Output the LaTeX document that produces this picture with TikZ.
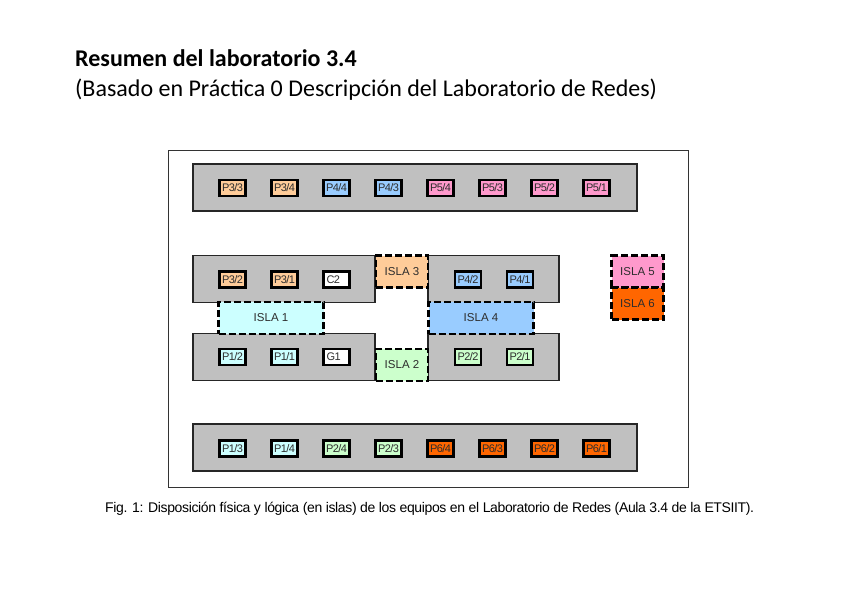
\documentclass[tikz,border=0pt]{standalone}
\usepackage{xcolor}
\usepackage{fontspec}
\setmainfont{Liberation Sans}
\newfontfamily\titlefont{Carlito}
\usetikzlibrary{positioning}
\definecolor{benchgray}{RGB}{192,192,192}
\definecolor{islaa}{RGB}{204,255,255}
\definecolor{islab}{RGB}{204,255,204}
\definecolor{islac}{RGB}{255,204,153}
\definecolor{islad}{RGB}{153,204,255}
\definecolor{islae}{RGB}{255,153,204}
\definecolor{islaf}{RGB}{255,102,0}
\definecolor{labelgray}{RGB}{45,45,45}
\tikzset{
  room/.style ={rectangle, draw=black!80, line width=0.9pt, outer sep=0pt, inner sep=0pt},
  bench/.style={rectangle, draw=black!85, fill=benchgray, line width=1.1pt, outer sep=0pt, inner sep=0pt,
                minimum height=47pt},
  pc/.style   ={rectangle, draw=black, line width=2.8pt, outer sep=0pt, inner sep=0pt,
                minimum width=26pt, minimum height=16pt,
                font=\fontsize{11}{11}\selectfont\addfontfeatures{LetterSpace=-5}, text=labelgray},
  guest/.style={pc, fill=white, text width=20pt, align=left},
  isla/.style ={rectangle, draw=black, line width=2.4pt, dash pattern=on 7pt off 3pt, outer sep=0pt, inner sep=0pt,
                font=\fontsize{11.5}{12}\selectfont, text=labelgray},
  heading/.style={anchor=base west, inner sep=0pt, font=\titlefont\fontsize{24}{26}\selectfont},
}
\begin{document}
\begin{tikzpicture}[x=1pt,y=-1pt]
\useasboundingbox (0,0) rectangle (848,599);
\fill[white] (0,0) rectangle (848,599);
\node[heading] (title) at (75,67) {\textbf{Resumen del laboratorio 3.4}};
\node[heading] (subtitle) at (75,97) {(Basado en Práctica 0 Descripción del Laboratorio de Redes)};
\node[room, minimum width=519.5pt, minimum height=337pt] (aula) at (428.25,318.5) {};
\node[anchor=base west, inner sep=0pt, font=\fontsize{14}{16}\selectfont] (caption) at (105,512)
   {\addfontfeatures{LetterSpace=-2.6}Fig. 1: Disposición física y lógica (en islas) de los equipos en el Laboratorio de Redes (Aula 3.4 de la ETSIIT).};
% benches
\node[bench, minimum width=444pt] (top) at (415,187.5) {};
\node[bench, minimum width=182pt] (upleft) at (284,279) {};
\node[bench, minimum width=131pt] (upright) at (493.5,279) {};
\node[bench, minimum width=182pt] (lowleft) at (284,357) {};
\node[bench, minimum width=131pt] (lowright) at (493.5,357) {};
\node[bench, minimum width=444pt] (bottom) at (415,447.5) {};
% top row
\node[pc, fill=islac] (p33) at (232.5,188) {P3/3};
\node[pc, fill=islac, right=26pt of p33] (p34) {P3/4};
\node[pc, fill=islad, right=26pt of p34] (p44) {P4/4};
\node[pc, fill=islad, right=26pt of p44] (p43) {P4/3};
\node[pc, fill=islae, right=26pt of p43] (p54) {P5/4};
\node[pc, fill=islae, right=26pt of p54] (p53) {P5/3};
\node[pc, fill=islae, right=26pt of p53] (p52) {P5/2};
\node[pc, fill=islae, right=26pt of p52] (p51) {P5/1};
% upper benches
\node[pc, fill=islac] (p32) at (232.5,279.5) {P3/2};
\node[pc, fill=islac, right=26pt of p32] (p31) {P3/1};
\node[guest, right=26pt of p31] (c2) {C2};
\node[pc, fill=islad] (p42) at (468,279.5) {P4/2};
\node[pc, fill=islad, right=26pt of p42] (p41) {P4/1};
% lower benches
\node[pc, fill=islaa] (p12) at (232.5,357) {P1/2};
\node[pc, fill=islaa, right=26pt of p12] (p11) {P1/1};
\node[guest, right=26pt of p11] (g1) {G1};
\node[pc, fill=islab] (p22) at (468,357) {P2/2};
\node[pc, fill=islab, right=26pt of p22] (p21) {P2/1};
% bottom row
\node[pc, fill=islaa] (p13) at (232.5,448.5) {P1/3};
\node[pc, fill=islaa, right=26pt of p13] (p14) {P1/4};
\node[pc, fill=islab, right=26pt of p14] (p24) {P2/4};
\node[pc, fill=islab, right=26pt of p24] (p23) {P2/3};
\node[pc, fill=islaf, right=26pt of p23] (p64) {P6/4};
\node[pc, fill=islaf, right=26pt of p64] (p63) {P6/3};
\node[pc, fill=islaf, right=26pt of p63] (p62) {P6/2};
\node[pc, fill=islaf, right=26pt of p62] (p61) {P6/1};
% islands
\node[isla, fill=islaa, minimum width=105pt, minimum height=32pt] (isla1) at (271,318) {ISLA 1};
\node[isla, fill=islab, minimum width=52pt, minimum height=32pt] (isla2) at (402,365) {ISLA 2};
\node[isla, fill=islac, minimum width=52pt, minimum height=32pt] (isla3) at (402,271.5) {ISLA 3};
\node[isla, fill=islad, minimum width=105pt, minimum height=32pt] (isla4) at (481,318) {ISLA 4};
\node[isla, fill=islae, minimum width=52pt, minimum height=32pt] (isla5) at (637.5,271.5) {ISLA 5};
\node[isla, fill=islaf, minimum width=52pt, minimum height=32pt, below=0pt of isla5] (isla6) {ISLA 6};
\end{tikzpicture}
\end{document}
